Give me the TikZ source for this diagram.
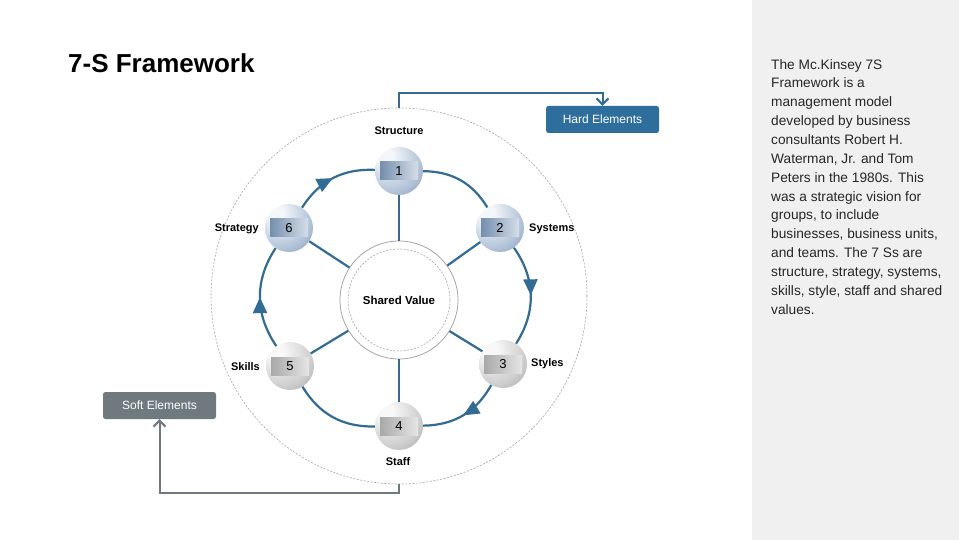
\documentclass[tikz,border=0pt]{standalone}
\usepackage{fontspec}
\setmainfont{Liberation Sans}
\usetikzlibrary{arrows.meta,decorations.markings,calc}

\definecolor{ringblue}{RGB}{50,108,148}
\definecolor{hardblue}{RGB}{46,110,156}
\definecolor{softgray}{RGB}{112,121,126}
\definecolor{panelgray}{RGB}{240,240,240}
\definecolor{ringgray}{RGB}{165,165,165}
\definecolor{sbA}{RGB}{244,247,250}
\definecolor{sbB}{RGB}{178,195,216}
\definecolor{sbC}{RGB}{88,118,156}
\definecolor{sgA}{RGB}{248,248,248}
\definecolor{sgB}{RGB}{205,205,205}
\definecolor{sgC}{RGB}{135,135,135}
\definecolor{nbL}{RGB}{104,132,166}
\definecolor{nbR}{RGB}{226,232,240}
\definecolor{ngL}{RGB}{160,160,160}
\definecolor{ngR}{RGB}{238,238,238}

\pgfdeclareradialshading{sphereblue}{\pgfpoint{-16bp}{18bp}}{color(0bp)=(sbA); color(8bp)=(sbA); color(32bp)=(sbB); color(60bp)=(sbC); color(80bp)=(sbC)}
\pgfdeclareradialshading{spheregray}{\pgfpoint{-16bp}{18bp}}{color(0bp)=(sgA); color(8bp)=(sgA); color(32bp)=(sgB); color(60bp)=(sgC); color(80bp)=(sgC)}

\tikzset{
  ballbase/.style={circle, minimum size=48pt, inner sep=0pt, shade,
    font=\fontsize{13}{13}\selectfont},
  bsphere/.style={ballbase, shading=sphereblue,
    path picture={\shade[left color=nbL, right color=nbR]
      ([xshift=-19pt,yshift=-9pt]path picture bounding box.center) rectangle
      ([xshift=19pt,yshift=9pt]path picture bounding box.center);}},
  gsphere/.style={ballbase, shading=spheregray,
    path picture={\shade[left color=ngL, right color=ngR]
      ([xshift=-19pt,yshift=-9pt]path picture bounding box.center) rectangle
      ([xshift=19pt,yshift=9pt]path picture bounding box.center);}},
  lbl/.style={inner sep=0pt, font=\fontsize{11}{11}\selectfont\bfseries},
  ringline/.style={draw=ringblue, line width=2.2pt},
  ringarrow/.style={ringline, postaction={decorate},
    decoration={markings, mark=at position 0.5 with {\arrow{Triangle[length=16pt,width=14pt]}}}},
  spoke/.style={draw=ringblue, line width=2.2pt},
  elembox/.style={rounded corners=2.5pt, minimum width=113pt, minimum height=27pt,
    inner sep=0pt, text=white, font=\fontsize{12}{12}\selectfont},
  hardline/.style={draw=ringblue, line width=2pt, -{Straight Barb[length=6pt,width=12pt]}},
  softline/.style={draw=softgray, line width=2pt, -{Straight Barb[length=6pt,width=12pt]}},
}

\begin{document}
\begin{tikzpicture}[x=1pt,y=-1pt]
\useasboundingbox (0,0) rectangle (959,540);
\fill[white] (0,0) rectangle (959,540);
\fill[panelgray] (752,0) rectangle (959,540);

% title
\node[anchor=west, inner sep=0pt, font=\fontsize{26}{26}\selectfont\bfseries] (title) at (68,63) {7-S Framework};

% outer dashed ring
\node[circle, minimum size=376pt, inner sep=0pt, draw=ringgray, line width=0.6pt,
      dash pattern=on 2pt off 1.5pt] (outer) at (399,296) {};

% shared value
\node[circle, minimum size=118pt, inner sep=0pt, draw=ringgray, line width=0.8pt,
      font=\fontsize{11.5}{11.5}\selectfont\bfseries] (sv) at (399,300) {Shared Value};
\draw[ringgray, line width=0.6pt, dash pattern=on 2pt off 1.5pt] (sv.center) circle[radius=51pt];

% spheres
\node[bsphere] (n1) at (399,171) {1};
\node[bsphere] (n2) at (500,228) {2};
\node[gsphere] (n3) at (503,364) {3};
\node[gsphere] (n4) at (399,426) {4};
\node[gsphere] (n5) at (290,366) {5};
\node[bsphere] (n6) at (289,228) {6};

% spokes
\foreach \n in {n1,n2,n3,n4,n5,n6} \draw[spoke] (\n) -- (sv);

% ring
\draw[ringarrow] (n6) to[bend left=30] (n1);
\draw[ringline]  (n1) to[bend left=29] (n2);
\draw[ringarrow] (n2) to[bend left=34] (n3);
\draw[ringarrow] (n3) to[bend left=30] (n4);
\draw[ringline]  (n4) to[bend left=30] (n5);
\draw[ringarrow] (n5) to[bend left=34] (n6);

% labels
\node[lbl] (lstruct) at (399,131) {Structure};
\node[lbl, anchor=west] (lsys) at (529,229) {Systems};
\node[lbl, anchor=west] (lsty) at (531,364) {Styles};
\node[lbl] (lstaff) at (398,462) {Staff};
\node[lbl, anchor=east] (lskill) at (260,367) {Skills};
\node[lbl, anchor=east] (lstrat) at (259,229) {Strategy};

% element boxes
\node[elembox, fill=hardblue] (hard) at (602.5,119.5) {Hard Elements};
\node[elembox, fill=softgray] (soft) at (159.5,405.5) {Soft Elements};

\draw[hardline] (outer.north) -- ++(0,-15) -| (hard.north);
\draw[softline] (outer.south) -- ++(0,9) -| (soft.south);

% description
\node[anchor=north west, inner sep=0pt, align=left, text=black!85,
      font=\fontsize{13.7}{18.85}\selectfont] (desc) at (771,59)
{The Mc.Kinsey 7S\\
Framework is a\\
management model\\
developed by business\\
consultants Robert H.\\
Waterman, Jr. and Tom\\
Peters in the 1980s. This\\
was a strategic vision for\\
groups, to include\\
businesses, business units,\\
and teams. The 7 Ss are\\
structure, strategy, systems,\\
skills, style, staff and shared\\
values.};
\end{tikzpicture}
\end{document}
